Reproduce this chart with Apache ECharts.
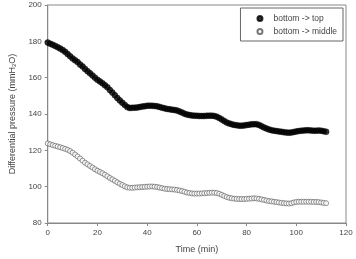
<!DOCTYPE html>
<html>
<head>
<meta charset="utf-8">
<script src="https://cdn.jsdelivr.net/npm/echarts@6/dist/echarts.min.js"></script>
<style>
  html, body { margin: 0; padding: 0; background: #fff; }
  #chart { width: 356px; height: 259px; }
</style>
</head>
<body>
<div id="chart"></div>
<script>
// time in minutes, one reading per minute
const times = [];
for (let t = 0; t <= 112; t++) times.push(t);

// bottom -> top (filled markers)
const topValues = [
  179.3, 178.7, 178.1, 177.5, 176.8, 176.0, 175.2, 174.2, 173.0, 171.8,
  170.6, 169.6, 168.6, 167.2, 166.2, 164.8, 163.6, 162.4, 161.2, 160.0,
  158.8, 157.9, 156.9, 155.8, 154.7, 153.2, 151.8, 150.3, 148.8, 147.5,
  146.2, 145.0, 143.8, 143.3, 143.4, 143.5, 143.6, 143.8, 144.1, 144.3,
  144.5, 144.6, 144.5, 144.4, 144.2, 143.9, 143.5, 143.1, 142.8, 142.6,
  142.4, 142.2, 141.9, 141.4, 140.8, 140.2, 139.7, 139.4, 139.2, 139.1,
  139.0, 138.9, 138.9, 138.9, 139.0, 139.1, 139.1, 138.9, 138.5, 137.8,
  137.0, 136.1, 135.3, 134.8, 134.4, 134.0, 133.8, 133.6, 133.6, 133.7,
  133.9, 134.1, 134.3, 134.4, 134.4, 134.0, 133.3, 132.6, 132.0, 131.5,
  131.1, 130.8, 130.6, 130.4, 130.2, 130.0, 129.8, 129.7, 129.8, 130.1,
  130.4, 130.6, 130.8, 130.9, 131.0, 131.0, 130.9, 130.8, 130.8, 130.9,
  130.8, 130.5, 130.2
];

// bottom -> middle (open markers)
const middleValues = [
  123.8, 123.3, 122.9, 122.5, 122.1, 121.7, 121.3, 120.8, 120.3, 119.6,
  118.7, 117.7, 116.6, 115.5, 114.3, 113.2, 112.3, 111.4, 110.5, 109.6,
  108.8, 108.1, 107.4, 106.6, 105.7, 104.8, 104.0, 103.2, 102.4, 101.6,
  100.9, 100.2, 99.6, 99.4, 99.4, 99.5, 99.6, 99.7, 99.8, 99.9,
  100.0, 100.1, 100.1, 100.0, 99.8, 99.5, 99.2, 98.9, 98.7, 98.6,
  98.5, 98.4, 98.2, 97.9, 97.6, 97.2, 96.8, 96.5, 96.3, 96.2,
  96.2, 96.2, 96.3, 96.4, 96.5, 96.6, 96.7, 96.7, 96.5, 96.1,
  95.5, 94.9, 94.3, 93.9, 93.6, 93.4, 93.3, 93.2, 93.2, 93.2,
  93.3, 93.4, 93.5, 93.6, 93.5, 93.3, 93.0, 92.7, 92.4, 92.1,
  91.9, 91.7, 91.5, 91.3, 91.1, 90.9, 90.8, 90.7, 90.9, 91.3,
  91.6, 91.7, 91.7, 91.7, 91.7, 91.7, 91.7, 91.6, 91.6, 91.5,
  91.3, 91.1, 90.9
];

const seriesNames = ['bottom -> top', 'bottom -> middle'];

const pair = (vals) => times.map((t, i) => [t, vals[i]]);

const axisCol = '#888';
const textCol = '#444';

const option = {
  animation: false,
  textStyle: { fontFamily: 'Liberation Sans, Arial, sans-serif' },
  grid: {
    left: 43, right: 10, top: 5, bottom: 35,
    show: true, borderColor: axisCol, borderWidth: 1
  },
  legend: {
    orient: 'vertical',
    right: 13, top: 8,
    borderColor: '#666', borderWidth: 1,
    padding: [6, 6, 5, 16],
    itemGap: 4,
    itemWidth: 5, itemHeight: 5,
    textStyle: { fontSize: 8.5, color: textCol, padding: [0, 0, 0, 6] },
    data: [
      { name: seriesNames[0], icon: 'circle' },
      { name: seriesNames[1], icon: 'circle' }
    ]
  },
  xAxis: {
    type: 'value', min: 0, max: 120, interval: 20,
    name: 'Time (min)', nameLocation: 'middle', nameGap: 22,
    nameTextStyle: { fontSize: 9, color: textCol },
    axisLine: { lineStyle: { color: axisCol } },
    axisTick: { length: 3, lineStyle: { color: axisCol } },
    axisLabel: { fontSize: 8, color: textCol, margin: 6 },
    splitLine: { show: false }
  },
  yAxis: {
    type: 'value', min: 80, max: 200, interval: 20,
    name: 'Differential pressure (mmH{sub|2}O)',
    nameLocation: 'middle', nameGap: 30, nameRotate: 90,
    nameTextStyle: {
      fontSize: 9, color: textCol,
      rich: { sub: { fontSize: 6, color: textCol, verticalAlign: 'bottom', padding: [4, 0, 0, 0] } }
    },
    axisLine: { show: true, lineStyle: { color: axisCol } },
    axisTick: { show: true, length: 3, lineStyle: { color: axisCol } },
    axisLabel: { fontSize: 8, color: textCol, margin: 6 },
    splitLine: { show: false }
  },
  series: [
    {
      name: seriesNames[0], type: 'scatter', symbol: 'circle', symbolSize: 6,
      itemStyle: { color: '#000', borderColor: '#000', borderWidth: 0.5 },
      data: pair(topValues)
    },
    {
      name: seriesNames[1], type: 'scatter', symbol: 'circle', symbolSize: 5,
      itemStyle: { color: '#fff', borderColor: '#555', borderWidth: 0.8 },
      data: pair(middleValues)
    }
  ]
};

const myChart = echarts.init(document.getElementById('chart'), null, { renderer: 'canvas' });
myChart.setOption(option);
</script>
</body>
</html>
